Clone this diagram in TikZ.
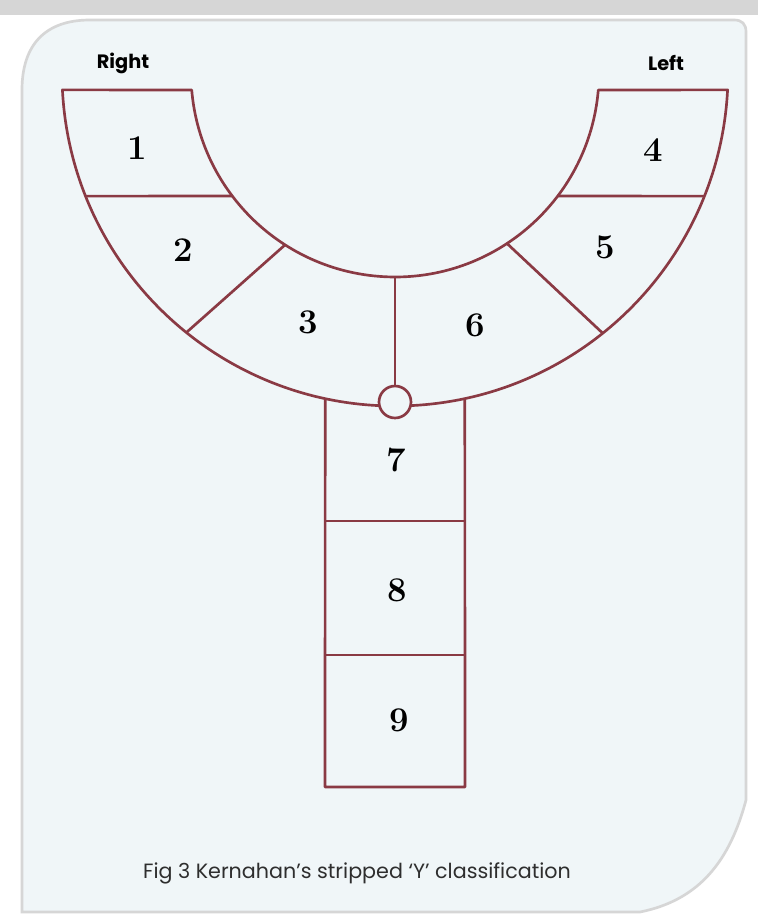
\documentclass[tikz,border=0pt]{standalone}
\usepackage{fontspec}
\usetikzlibrary{calc}
\newfontfamily\capfont{Poppins}
\definecolor{cleftred}{HTML}{8A3A44}
\definecolor{panelbg}{HTML}{F0F6F8}
\definecolor{framegray}{HTML}{D6D6D6}
\definecolor{inkgray}{HTML}{2E2E2E}

\begin{document}
\begin{tikzpicture}[
    x=0.75pt, y=-0.75pt,
    outline/.style={line width=2pt, cleftred, line join=round},
    num/.style={font=\fontsize{26}{28}\selectfont\bfseries, inner sep=0pt},
    side/.style={font=\capfont\fontsize{14.5}{16}\selectfont\bfseries, inner sep=0pt},
    caption/.style={font=\capfont\fontsize{15.5}{18}\selectfont, text=inkgray, inner sep=0pt}
  ]
  \useasboundingbox (0,0) rectangle (758,919);

  % Background card
  \fill[white] (0,0) rectangle (758,919);
  \fill[framegray] (0,0) rectangle (758,15);
  \draw[framegray, line width=2pt, fill=panelbg]
    (22,912) -- (22,90) .. controls (22,45) and (45,20) .. (90,20)
    -- (734,20) .. controls (742,20) and (746,24) .. (746,32)
    -- (746,800) .. controls (730,860) and (700,900) .. (640,912) -- cycle;

  % Centre and radii of the arcs
  \coordinate (C) at (395,73);
  \def\ro{333}
  \def\ri{204}

  % Curved band
  \draw[outline] ($(C)+(177.1:\ro)$) arc[start angle=177.1, end angle=2.9, radius=\ro]
    -- ($(C)+(4.8:\ri)$) arc[start angle=4.8, end angle=175.2, radius=\ri] -- cycle;

  % Dividers of the band
  \foreach \a/\b in {142.9/158.3, 122.6/128.8, 56.7/51.4, 37.1/21.7}
    \draw[outline] ($(C)+(\a:\ri)$) -- ($(C)+(\b:\ro)$);

  % Stem
  \coordinate (stemTL) at ($(C)+(102.1:\ro)$);
  \coordinate (stemTR) at ($(C)+(77.9:\ro)$);
  \coordinate (stemBL) at (325,787);
  \coordinate (stemBR) at (465,787);
  \draw[outline] (stemTL) -- (stemBL) -- (stemBR) -- (stemTR);
  \draw[outline] (325,521) -- (465,521);
  \draw[outline] (325,655) -- (465,655);

  % Incisive foramen and midline
  \node[circle, draw=cleftred, line width=2pt, fill=panelbg, minimum size=24pt, inner sep=0pt]
    (joint) at (395,402) {};
  \draw[outline] ($(C)+(90:\ri)$) -- (joint.north);

  % Numbers
  \foreach \n/\x/\y in {1/137/148, 2/183/250, 3/308/322, 4/653/150, 5/605/247,
                        6/475/325, 7/396/460, 8/397/590, 9/399/720}
    \node[num] (n\n) at (\x,\y) {\n};

  % Sides and caption
  \node[side] (right) at (123,63) {Right};
  \node[side] (left) at (666,63) {Left};
  \node[caption] (cap) at (357,873) {Fig 3 Kernahan’s stripped ‘Y’ classification};
\end{tikzpicture}
\end{document}
